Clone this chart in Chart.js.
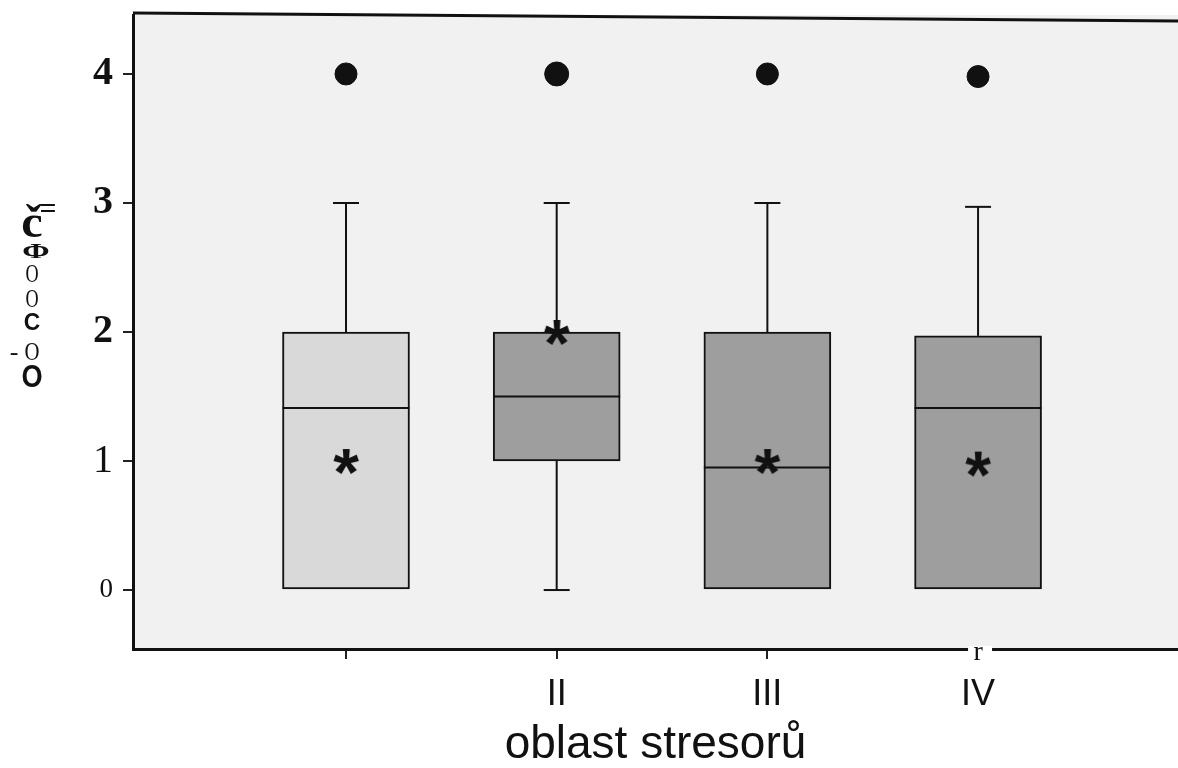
<!DOCTYPE html>
<html>
<head>
<meta charset="utf-8">
<script src="https://cdn.jsdelivr.net/npm/chart.js@4.4.1/dist/chart.umd.min.js"></script>
<style>
  html, body { margin: 0; padding: 0; background: #fff; overflow: hidden; }
  #wrap { width: 1178px; height: 768px; }
  canvas { display: block; }
</style>
</head>
<body>
<div id="wrap"><canvas id="myChart"></canvas></div>
<script>
// datos (boxplot por oblast)
const categorias = ['', 'II', 'III', 'IV'];
const posiciones = [1, 2, 3, 4];
const minimos = [0, 0, 0, 0];
const q1 = [0, 1, 0, 0];
const medianas = [1.41, 1.5, 0.95, 1.41];
const q3 = [2, 2, 2, 1.97];
const maximos = [3, 3, 3, 2.97];
const medias = [1, 2, 1, 0.98];
const extremos = [4, 4, 4, 3.98];
const yTicks = [0, 1, 2, 3, 4];
const colores = ['#d9d9d9', '#9e9e9e', '#9e9e9e', '#9e9e9e'];

// asterisco como pointStyle
function hacerAsterisco() {
    const c = document.createElement('canvas');
    c.width = 40; c.height = 40;
    const g = c.getContext('2d');
    g.font = 'bold 66px "Liberation Sans", Arial, sans-serif';
    g.textAlign = 'center';
    g.textBaseline = 'alphabetic';
    g.fillStyle = '#111';
    const m = g.measureText('*');
    const base = 20 + (m.actualBoundingBoxAscent - m.actualBoundingBoxDescent) / 2;
    g.fillText('*', 20, base);
    return c;
}

const cajasPlugin = {
    id: 'cajas',
    beforeDraw(chart) {
        const { ctx, chartArea } = chart;
        ctx.save();
        ctx.fillStyle = '#f1f1f1';
        ctx.fillRect(chartArea.left, chartArea.top, chartArea.right - chartArea.left, chartArea.bottom - chartArea.top);
        ctx.restore();
    },
    afterDatasetsDraw(chart) {
        const { ctx } = chart;
        const x = chart.scales.x, y = chart.scales.y;
        const barras = chart.getDatasetMeta(0).data;
        ctx.save();
        ctx.strokeStyle = '#111';
        ctx.lineWidth = 2;
        const linea = (x1, y1, x2, y2) => {
            ctx.beginPath(); ctx.moveTo(x1, y1); ctx.lineTo(x2, y2); ctx.stroke();
        };
        posiciones.forEach((p, i) => {
            const cx = x.getPixelForValue(p);
            const cap = 13;
            // bigote superior
            linea(cx, y.getPixelForValue(q3[i]), cx, y.getPixelForValue(maximos[i]));
            linea(cx - cap, y.getPixelForValue(maximos[i]), cx + cap, y.getPixelForValue(maximos[i]));
            // bigote inferior
            if (minimos[i] < q1[i]) {
                linea(cx, y.getPixelForValue(q1[i]), cx, y.getPixelForValue(minimos[i]));
                linea(cx - cap, y.getPixelForValue(minimos[i]), cx + cap, y.getPixelForValue(minimos[i]));
            }
            // mediana
            const half = barras[i].width / 2;
            linea(cx - half, y.getPixelForValue(medianas[i]), cx + half, y.getPixelForValue(medianas[i]));
        });
        ctx.restore();
    },
    afterDraw(chart) {
        const { ctx, chartArea } = chart;
        ctx.save();
        // borde superior
        ctx.strokeStyle = '#111';
        ctx.lineWidth = 3;
        ctx.beginPath();
        ctx.moveTo(chartArea.left, chartArea.top - 2);
        ctx.lineTo(chartArea.right, chartArea.top + 6);
        ctx.stroke();

        // titulo del eje y (texto escaneado, en vertical)
        ctx.fillStyle = '#111';
        ctx.textAlign = 'center';
        ctx.textBaseline = 'alphabetic';
        const glifos = [
            // fuente, texto, x, y, escala horizontal
            ['bold 46px "Liberation Serif"', 'č', 32, 237, 1.05],
            ['bold 30px "Liberation Serif"', '=', 48, 218, 1],
            ['bold 22px "Liberation Serif"', 'Φ', 36, 258, 1.5],
            ['26px "Liberation Serif"', 'O', 32, 282, 0.7],
            ['26px "Liberation Serif"', 'O', 32, 307, 0.7],
            ['bold 24px "Liberation Sans"', 'C', 32, 330, 0.95],
            ['26px "Liberation Serif"', '-', 14, 360, 1],
            ['26px "Liberation Serif"', 'O', 32, 360, 0.8],
            ['bold 32px "Liberation Sans"', 'O', 32, 387, 0.85]
        ];
        glifos.forEach(([f, t, gx, gy, sx]) => {
            ctx.save();
            ctx.translate(gx, gy);
            ctx.scale(sx, 1);
            ctx.font = f;
            ctx.fillText(t, 0, 0);
            ctx.restore();
        });

        // marca rara bajo el eje en IV (hueco en la linea + "r")
        const rx = chart.scales.x.getPixelForValue(posiciones[3]);
        ctx.fillStyle = '#fff';
        ctx.fillRect(rx - 10, chartArea.bottom - 3, 24, 7);
        ctx.fillStyle = '#111';
        ctx.font = '28px "Liberation Serif"';
        ctx.fillText('r', rx, chartArea.bottom + 11);
        ctx.restore();
    }
};

const ctx = document.getElementById('myChart');

const myChart = new Chart(ctx, {
    type: 'bar',
    data: {
        datasets: [{
            type: 'bar',
            data: posiciones.map((p, i) => ({ x: p, y: [q1[i], q3[i]] })),
            backgroundColor: colores,
            borderColor: '#111',
            borderWidth: 2,
            borderSkipped: false,
            barThickness: 127,
            order: 3
        }, {
            type: 'scatter',
            data: posiciones.map((p, i) => ({ x: p, y: medias[i] })),
            pointStyle: hacerAsterisco(),
            order: 1
        }, {
            type: 'scatter',
            data: posiciones.map((p, i) => ({ x: p, y: extremos[i] })),
            pointStyle: 'circle',
            pointRadius: [11, 12, 11, 11],
            backgroundColor: '#111',
            borderColor: '#111',
            order: 2
        }]
    },
    options: {
        responsive: true,
        maintainAspectRatio: false,
        animation: false,
        layout: { autoPadding: false, padding: { top: 15, left: 0, right: 0, bottom: 0 } },
        plugins: {
            legend: { display: false },
            tooltip: { enabled: false }
        },
        scales: {
            x: {
                type: 'linear',
                offset: false,
                min: -0.011,
                max: 4.949,
                afterBuildTicks: s => { s.ticks = posiciones.map(v => ({ value: v })); },
                afterFit: s => { s.height = 119; s.paddingLeft = 0; s.paddingRight = 0; },
                ticks: {
                    callback: v => categorias[posiciones.indexOf(v)],
                    color: '#111',
                    padding: 14,
                    font: { family: '"Liberation Sans", Arial, sans-serif', size: 36 }
                },
                grid: {
                    offset: false,
                    drawOnChartArea: false,
                    tickLength: 10,
                    lineWidth: 2,
                    color: c => (c.tick && c.tick.value === 4) ? 'rgba(0,0,0,0)' : '#222'
                },
                border: { color: '#111', width: 3 },
                title: {
                    display: true,
                    text: 'oblast stresorů',
                    color: '#111',
                    padding: { top: 0, bottom: 0 },
                    font: { family: '"Liberation Sans", Arial, sans-serif', size: 46, lineHeight: 1 }
                }
            },
            y: {
                min: -0.457,
                max: 4.457,
                afterBuildTicks: s => { s.ticks = yTicks.map(v => ({ value: v })); },
                afterFit: s => { s.width = 133; s.paddingTop = 0; s.paddingBottom = 0; },
                ticks: {
                    color: '#111',
                    padding: 10,
                    font: c => ({
                        family: '"Liberation Serif", "Times New Roman", serif',
                        size: c.tick && c.tick.value === 0 ? 27 : 40,
                        weight: c.tick && c.tick.value >= 2 ? 'bold' : 'normal'
                    })
                },
                grid: {
                    drawOnChartArea: false,
                    tickLength: 10,
                    lineWidth: 2,
                    color: '#222'
                },
                border: { color: '#111', width: 3 }
            }
        }
    },
    plugins: [cajasPlugin]
});
</script>
</body>
</html>
